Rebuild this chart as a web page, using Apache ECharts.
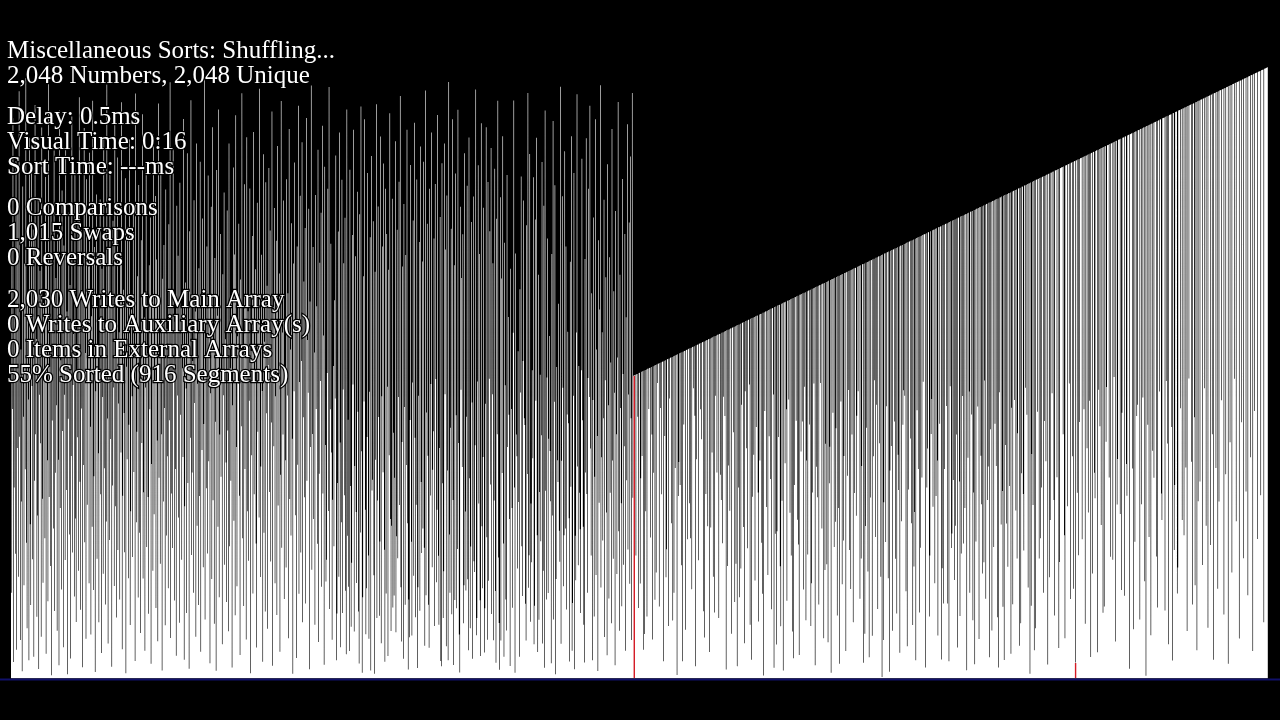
<!DOCTYPE html>
<html>
<head>
<meta charset="utf-8">
<style>
  html, body { margin: 0; padding: 0; background: #000; }
  #chart { width: 1280px; height: 720px; }
</style>
<script src="https://cdn.jsdelivr.net/npm/echarts@6/dist/echarts.min.js"></script>
</head>
<body>
<div id="chart"></div>
<script>
// Indices 0..1014: the shuffled part of the array (values read/estimated from the picture)
const shuffledValues = [
1432,287,903,1876,55,640,1210,418,1733,96,772,1555,341,1967,810,129,
1102,593,24,1648,877,312,1389,701,2011,455,168,1290,934,61,1811,517,
246,1723,980,399,1504,73,662,1921,818,1137,207,546,1612,32,950,1366,
788,140,1845,602,321,1258,997,470,1680,83,1419,731,259,1999,608,1044,
377,1573,11,864,1195,502,1768,226,689,1341,915,160,1487,733,44,1902,
571,1066,298,1634,829,105,1450,950,397,1789,631,1229,14,870,1560,482,
1318,67,745,1882,422,983,1154,275,1701,536,189,1033,808,1595,361,1947,
659,230,1501,904,38,1268,715,1844,456,1090,133,1672,582,996,1380,319,
1761,843,147,1213,508,1935,296,677,1445,22,962,1621,401,1118,754,188,
1025,1604,617,85,1372,943,351,1816,704,1173,248,526,1989,871,117,1403,
464,1690,802,1257,39,646,1533,975,310,1862,577,1086,204,1745,430,921,
1160,265,1418,757,1930,98,612,1302,889,423,1675,18,1044,734,1511,336,
850,1805,179,560,1236,945,407,1583,692,1111,59,1959,523,826,1347,271,
1653,488,1000,152,1468,789,1890,335,624,1209,93,975,1731,440,1088,608,
217,1384,902,1544,49,718,1262,361,1822,550,999,1616,236,1403,797,125,
1926,672,1075,384,1710,818,27,1339,593,1452,906,178,1638,479,1171,744,
302,1521,865,1997,136,620,1284,437,1773,1009,261,1195,702,76,1583,948,
1416,539,187,1660,883,1243,398,1039,742,1874,63,577,1326,971,219,1759,
655,1118,33,1498,806,1937,414,690,1063,287,1602,923,1229,140,1792,512,
987,246,1374,611,1731,90,1169,765,1541,373,852,2032,198,1010,637,1447,
419,1685,728,1262,51,955,1580,333,1846,597,1102,183,1408,860,26,1703,
1215,508,1906,272,817,1489,676,1007,115,1354,949,1628,381,1136,723,256,
1567,831,158,1792,443,1039,662,1285,37,915,1711,528,1420,212,1886,775,
309,1146,987,1523,612,79,1336,845,1960,470,1088,243,1655,702,1277,131,
1813,560,1230,394,930,1641,18,1097,748,1482,285,1830,617,991,1371,452,
104,1593,826,1202,539,1975,340,710,1419,963,56,1756,488,1128,224,1662,
888,1315,167,1049,1710,625,1500,392,857,1899,43,1243,778,1576,319,945,
1466,213,1783,579,1003,1356,90,682,1934,438,1159,817,1601,266,1024,731,
372,1672,948,1290,135,1840,601,1102,479,1525,803,16,1390,962,1728,547,
1181,69,1447,716,1918,284,993,1617,422,1063,1796,188,875,1330,607,1509,
251,1877,662,1134,957,1573,31,1263,775,1986,364,819,1445,534,1092,180,
1619,903,1247,451,1771,122,686,1392,996,1560,307,1851,620,1149,46,1714,
782,325,398,1023,1640,561,1981,233,902,1456,757,130,599,1047,443,1267,
938,1752,61,218,655,1497,341,1829,790,105,523,1670,219,968,1391,614,
1543,294,81,1906,478,867,307,92,1704,645,173,388,1485,985,1838,157,
712,1414,558,320,1630,893,224,50,1555,489,1916,761,19,272,1347,928,
1873,565,148,302,809,1693,412,133,960,1478,27,1750,630,666,1531,346,
16,1362,733,1923,203,596,1581,876,210,459,1815,118,945,1447,691,1725,
431,56,1640,285,1489,977,75,1369,748,1893,534,159,512,1607,238,823,
278,672,1799,155,476,1503,403,943,1664,581,1951,306,124,792,1380,66,
1589,909,247,1418,715,1838,520,30,265,138,866,1720,458,144,991,1534,
344,1861,806,205,582,1671,35,306,947,1462,227,1782,658,420,1397,502,
1731,438,110,1969,279,891,1523,746,247,103,1640,613,986,1829,373,699,
828,1474,176,1656,1003,322,565,1887,411,180,772,1546,59,41,1726,654,
203,359,1792,952,1437,108,1618,697,61,1998,482,287,840,1506,215,1873,
598,45,1384,263,1691,882,235,434,1905,789,147,20,1580,967,1341,708,
1488,185,312,1759,559,295,877,1650,332,95,1812,671,168,442,1529,924,
66,1614,393,357,781,1973,145,203,995,1719,586,1422,262,75,1860,510,
302,742,1577,87,235,920,1846,473,130,1663,327,1004,1498,650,1777,216,
952,1391,128,596,1707,293,53,1540,818,1935,405,186,29,1612,127,1340,
688,1816,452,73,1459,982,265,161,1686,775,1211,883,534,42,1372,903,
571,237,1158,1936,640,19,1423,817,744,368,1096,591,73,1304,958,1681,
443,276,1063,1601,872,849,250,127,1518,685,1961,304,413,1757,190,586,
389,1032,738,1679,115,244,1537,930,1811,480,89,1352,197,625,1017,460,
815,1730,117,361,1583,36,1902,629,265,1008,1474,286,803,1147,762,594,
51,1422,546,1867,198,927,1652,14,333,1043,731,658,1255,495,391,1982,
116,729,1615,974,309,480,1766,502,1447,231,884,1161,855,537,57,1396,
642,1816,93,253,947,1693,31,478,329,1159,1957,710,379,1047,622,500,
219,1032,1741,865,508,180,54,1405,690,1809,618,287,1006,1640,943,1918,
770,412,1290,61,933,1544,208,676,1873,347,1102,812,25,1468,589,1236,
1987,305,741,1160,462,872,1603,139,999,1344,556,78,1722,915,268,1411,
622,1058,185,1840,730,401,1297,957,44,1566,818,350,1075,1931,493,160,
1352,906,587,242,1673,1020,381,778,1489,93,1210,664,1856,432,951,1527,
317,1748,872,129,1961,605,1014
];

// Indices 1015..2047: the still mostly ordered ramp, with swapped-in low values
const rampValues = [
1015,1016,1017,412,1019,1020,877,236,1023,
1024,318,671,1027,745,1029,96,1031,149,1033,560,1035,208,1037,1038,903,
1040,1041,472,1043,817,131,1046,689,1048,264,1050,355,1052,990,1054,1055,
241,1057,906,1059,617,1061,1062,58,1064,812,1066,339,433,1069,1070,176,
1072,938,1074,1075,520,1077,194,1079,287,1081,705,1083,1084,12,1086,611,
725,1089,648,1091,379,1093,58,1095,851,1097,1098,163,1100,1101,466,1103,
1104,587,1106,470,1108,299,1110,1111,972,1113,880,41,1116,734,1118,1119,
396,1121,1122,902,1124,801,1126,1127,225,1129,137,1131,618,1133,1134,510,
1136,1137,89,1139,506,1141,757,1143,341,1145,221,1147,947,1149,690,1151,
1152,203,1154,1155,682,598,1158,453,1160,944,1162,879,1164,30,1166,377,
1168,713,1170,562,1172,1173,150,1175,1176,825,1178,256,1180,384,1182,41,
1184,640,1186,272,1188,368,917,1191,1192,507,1194,118,962,1197,771,1199,
436,1201,1202,985,180,1205,63,1207,609,1209,749,1211,328,1213,842,1215,
1216,623,191,1219,730,1221,1222,455,284,1225,10,1227,896,1229,1230,574,
1232,347,1234,811,1236,668,1238,232,1240,1241,951,36,1244,485,1246,114,
493,1249,809,1251,1252,376,175,1255,595,1257,27,1259,1260,721,1262,902,
260,1265,1266,934,1268,555,1270,412,1272,157,1274,68,648,1277,1278,863,
1280,532,1282,449,79,1285,1286,760,1288,861,1290,298,1292,977,1294,195,
730,1297,415,1299,1300,851,1302,176,319,1305,623,1307,988,1309,44,1311,
709,1313,607,1315,248,1317,1318,990,1320,502,1322,1323,135,1325,363,786,
1328,383,1330,121,1332,654,776,1335,19,1337,1338,890,1340,440,1342,525,
838,1345,211,1347,571,1349,49,1351,928,1353,316,1355,462,745,1358,1359,
92,1361,1362,679,966,1365,430,1367,300,1369,817,1371,188,1373,621,1375,
1376,545,880,1379,962,1381,1382,267,1384,402,712,1387,1388,53,1390,150,
511,1393,840,1395,358,1397,71,1399,606,1401,1402,143,1404,744,1406,999,
474,1409,917,1411,233,1413,1414,788,1416,341,1418,5,1420,129,590,1423,
1424,457,912,1427,1428,336,1430,23,697,1433,779,1435,160,1437,1438,861,
1440,401,1442,218,1444,749,631,1447,86,1449,1450,527,1452,850,965,1455,
947,1457,292,1459,108,1461,633,1463,1464,804,1466,520,1468,179,1470,375,
558,1473,61,1475,898,1477,702,1479,221,1481,438,1483,673,1485,994,1487,
1488,1489,37,1491,640,770,1494,1495,208,412,1498,819,936,1501,575,1503,
1504,319,1506,611,1508,730,144,1511,1512,853,1514,1515,64,369,1518,251,
1520,702,1522,1523,913,1525,251,1527,58,1529,979,1531,437,486,1534,665,
1536,330,1538,512,817,1541,104,1543,1544,660,209,1547,419,1549,946,1551,
452,1553,571,1555,1556,28,1558,739,1560,961,287,1563,1564,884,1566,195,
623,1569,48,1571,459,1573,1574,911,1576,132,1578,1579,746,584,1582,352,
1584,389,998,1587,267,1589,1590,598,710,1593,71,1595,835,1597,161,1599,
1600,440,1602,853,1604,712,1606,205,1608,37,959,1611,1612,516,1614,628,
240,1617,62,1619,782,1621,519,1623,374,1625,1626,645,1628,83,907,1631,
249,1633,1634,933,1636,563,1638,402,821,1641,1642,110,1644,185,687,1647,
1648,618,429,1651,1652,974,1654,883,1656,305,1658,1659,16,1661,244,752,
1664,581,1666,95,1668,168,1670,1671,893,1673,1674,402,1676,470,1678,640,
1680,1681,287,1683,862,1685,728,1687,1688,47,1690,1691,339,531,1694,1695,
955,1697,1698,598,211,1701,1702,1703,674,1705,1706,102,390,1709,1710,1711,
1712,1713,818,1715,480,135,1718,1719,1720,577,1722,1723,988,1725,266,1727,
1728,744,1730,301,1732,1733,54,1735,1736,622,1738,413,1740,859,1742,1743,
1744,466,1746,1747,902,1749,183,1751,1752,771,1754,556,1756,930,1758,72,
1760,1761,352,1763,1764,689,604,1767,1768,1769,88,1771,967,1773,845,1775,
514,1777,1778,220,1780,241,1782,1783,793,976,1786,1787,1788,673,1790,408,
1792,1793,1794,398,1796,1010,1798,124,1800,1801,583,735,1804,1805,1806,551,
1808,296,890,1811,1812,1813,277,1815,1816,718,612,1819,1820,1821,33,1823,
1824,1825,1826,703,1828,165,1830,458,1832,1833,879,917,1836,1837,1838,198,
1840,1841,584,1843,941,1845,1846,326,1848,9,1850,1851,850,1853,474,1855,
1856,145,1858,1859,763,1861,672,1863,1864,1865,409,1867,238,1869,1870,961,
1872,1873,620,531,1876,1877,1878,1879,228,1881,996,1883,787,1885,115,1887,
1888,1889,1890,842,60,1893,1894,430,648,1897,1898,1899,285,372,1902,1903,
1904,905,1906,1907,531,1909,1910,480,1912,1913,707,1915,159,1917,1918,1005,
1920,1921,1922,726,1924,248,1926,1927,875,312,1930,1931,95,1933,594,1935,
1936,660,1938,1939,1940,380,1942,1943,972,1945,1946,512,1948,1949,170,1951,
1952,1953,447,1955,1956,818,1958,63,1960,1961,1962,705,1964,1965,301,1967,
593,1969,1970,1971,932,1973,1974,1975,214,1977,1978,684,1980,1981,1982,49,
1984,1985,791,1987,1988,355,1990,1991,1992,1004,1994,1995,527,1997,1998,1999,
2000,134,2002,2003,2004,858,2006,2007,403,2009,2010,2011,626,2013,2014,279,
2016,2017,2018,741,2020,2021,2022,92,2024,2025,896,2027,2028,2029,2030,467,
2032,2033,2034,2035,614,2037,2038,2039,2040,188,2042,2043,2044,2045,2046,2047
];

// Positions highlighted in red (the pair being swapped)
const markedIndices = [1015, 1734];

// Overlay statistics text
const statLines = [
  "Miscellaneous Sorts: Shuffling...",
  "2,048 Numbers, 2,048 Unique",
  "Delay: 0.5ms",
  "Visual Time: 0:16",
  "Sort Time: ---ms",
  "0 Comparisons",
  "1,015 Swaps",
  "0 Reversals",
  "2,030 Writes to Main Array",
  "0 Writes to Auxiliary Array(s)",
  "0 Items in External Arrays",
  "55% Sorted (916 Segments)"
];
const statBaselines = [57, 82, 123, 148, 173, 214, 239, 264, 306, 331, 356, 381];

const values = shuffledValues.concat(rampValues);
const categories = values.map((_, i) => i);
const markedData = values.map((v, i) => markedIndices.indexOf(i) >= 0 ? v : null);

const chart = echarts.init(document.getElementById('chart'), null, { renderer: 'canvas' });

const graphics = [
  {
    type: 'rect',
    z: 50,
    silent: true,
    shape: { x: 0, y: 678.5, width: 1280, height: 2 },
    style: { fill: '#10106a' }
  }
];
statLines.forEach((t, i) => {
  graphics.push({
    type: 'text',
    z: 100,
    silent: true,
    x: 7,
    y: statBaselines[i] - 5.5,
    style: {
      text: t,
      font: '25px "Liberation Serif", "Times New Roman", serif',
      fill: '#ffffff',
      stroke: '#000000',
      lineWidth: 2.5,
      strokeFirst: true,
      verticalAlign: 'middle',
      align: 'left'
    }
  });
});

chart.setOption({
  backgroundColor: '#000000',
  animation: false,
  grid: { left: 11, right: 12, top: 67, bottom: 41.5, containLabel: false },
  xAxis: {
    type: 'category',
    data: categories,
    boundaryGap: true,
    axisLine: { show: false },
    axisTick: { show: false },
    axisLabel: { show: false },
    splitLine: { show: false }
  },
  yAxis: {
    type: 'value',
    min: 0,
    max: 2048,
    show: false,
    splitLine: { show: false }
  },
  series: [{
    type: 'bar',
    data: values,
    large: true,
    largeThreshold: 100,
    barCategoryGap: '0%',
    barMinWidth: 0.1,
    silent: true,
    itemStyle: { color: '#ffffff' }
  }, {
    type: 'bar',
    data: markedData,
    barGap: '-100%',
    barCategoryGap: '0%',
    silent: true,
    z: 3,
    itemStyle: { color: '#d41a24', borderColor: '#d41a24', borderWidth: 1.4 }
  }],
  graphic: graphics
});
</script>
</body>
</html>
